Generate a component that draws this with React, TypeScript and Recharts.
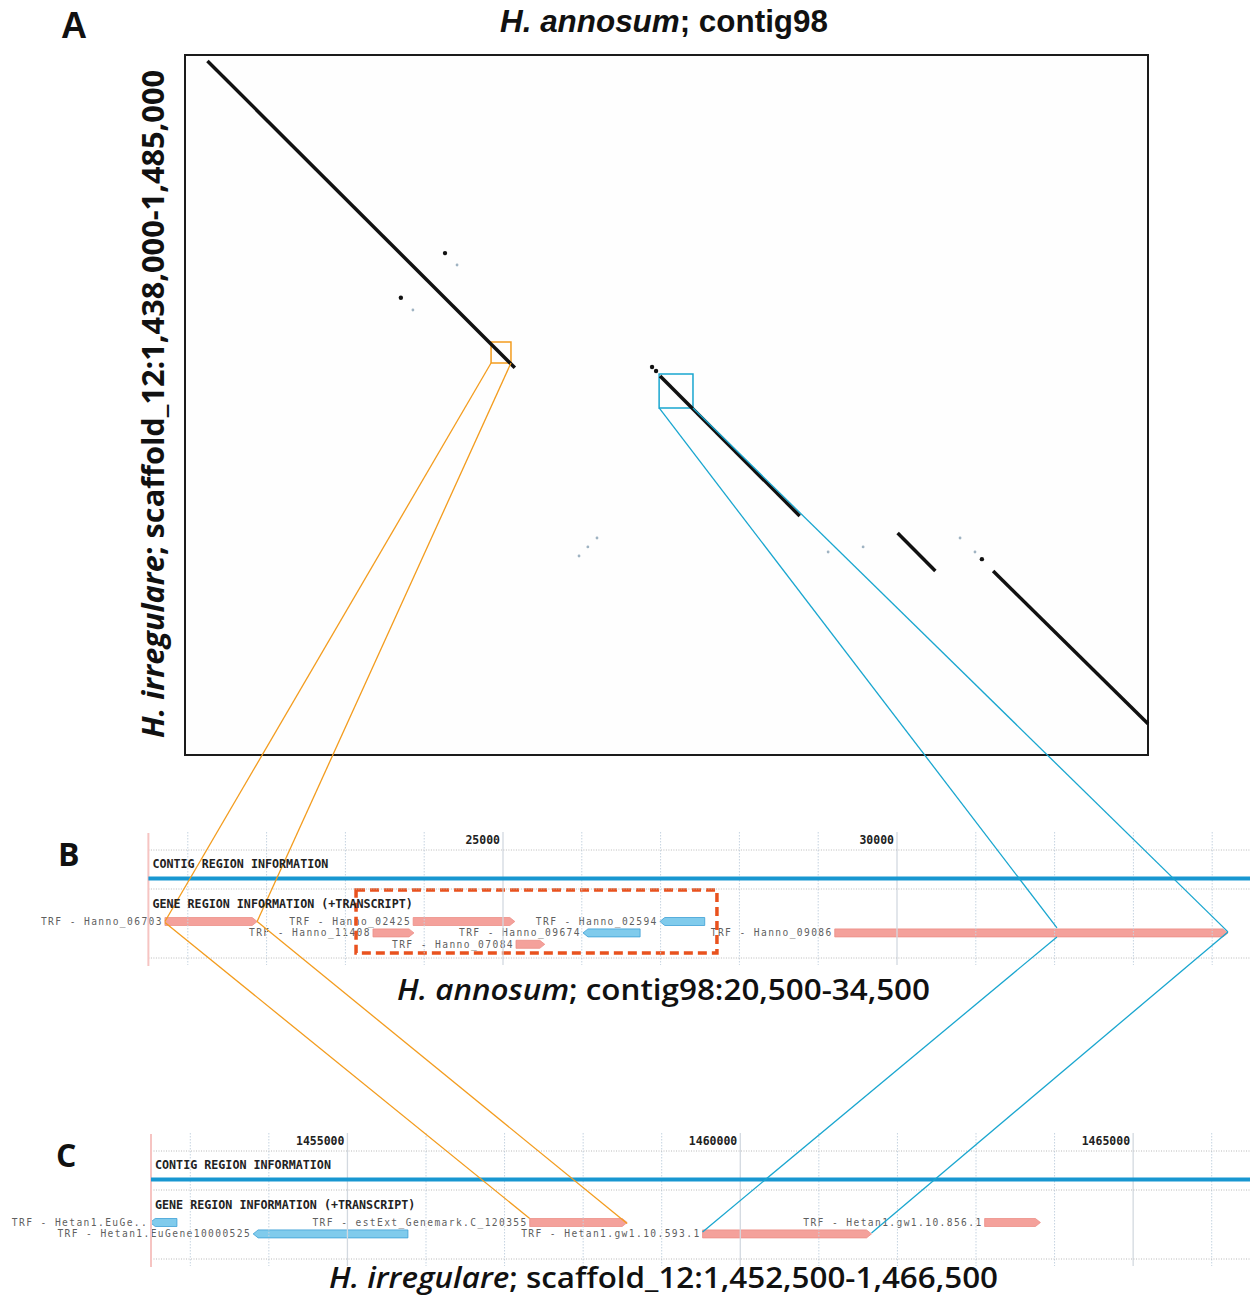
import React from "react";
import {
  ComposedChart,
  XAxis,
  YAxis,
  Line,
  Scatter,
  ReferenceArea,
  ReferenceLine,
  ReferenceDot,
} from "recharts";

const W = 1250;
const H = 1295;

// ---- panel A: dot plot, contig98 (x, bp) against scaffold_12 (y, bp)
const alignments = [
  { x1: 1400, y1: 1438400, x2: 20550, y2: 1459000 },
  { x1: 29600, y1: 1459550, x2: 38300, y2: 1468950 },
  { x1: 44400, y1: 1470100, x2: 46750, y2: 1472650 },
  { x1: 50350, y1: 1472650, x2: 60000, y2: 1482900 },
];
const strongDots = [
  { x: 16200, y: 1451300 },
  { x: 13450, y: 1454300 },
  { x: 49650, y: 1471850 },
  { x: 29100, y: 1458950 },
  { x: 29350, y: 1459220 },
];
const faintDots = [
  { x: 16950, y: 1452100 },
  { x: 14200, y: 1455120 },
  { x: 25670, y: 1470430 },
  { x: 24550, y: 1471640 },
  { x: 25100, y: 1471030 },
  { x: 42250, y: 1471030 },
  { x: 40070, y: 1471370 },
  { x: 48290, y: 1470430 },
  { x: 49220, y: 1471370 },
];
const zoomBoxes = [
  { color: "#f39c1e", x1: 19070, x2: 20310, y1: 1457270, y2: 1458680 },
  { color: "#19a6cf", x1: 29540, x2: 31650, y1: 1459420, y2: 1461700 },
];

// ---- panel B: contig98:20,500-34,500
const bRange = [20500, 34500];
const bMinorTicks = [21000, 22000, 23000, 24000, 26000, 27000, 28000, 29000, 31000, 32000, 33000, 34000];
const bMajorTicks = [25000, 30000];
const bGenes = [
  { name: "Hanno_06703", start: 20710, end: 21880, strand: 1, row: 1 },
  { name: "Hanno_02425", start: 23860, end: 25150, strand: 1, row: 1 },
  { name: "Hanno_11408", start: 23350, end: 23870, strand: 1, row: 2 },
  { name: "Hanno_07084", start: 25165, end: 25530, strand: 1, row: 3 },
  { name: "Hanno_09674", start: 26015, end: 26740, strand: -1, row: 2 },
  { name: "Hanno_02594", start: 26990, end: 27560, strand: -1, row: 1 },
  { name: "Hanno_09086", start: 29210, end: 34200, strand: 1, row: 2 },
];
const bHighlight = { x1: 23135, x2: 27715 };

// ---- panel C: scaffold_12:1,452,500-1,466,500
const cRange = [1452500, 1466500];
const cMinorTicks = [1453000, 1454000, 1456000, 1457000, 1458000, 1459000, 1461000, 1462000, 1463000, 1464000, 1466000];
const cMajorTicks = [1455000, 1460000, 1465000];
const cGenes = [
  { name: "Hetan1.EuGe..", start: 1452490, end: 1452830, strand: -1, row: 1 },
  { name: "Hetan1.EuGene10000525", start: 1453800, end: 1455770, strand: -1, row: 2 },
  { name: "estExt_Genemark.C_120355", start: 1457320, end: 1458560, strand: 1, row: 1 },
  { name: "Hetan1.gw1.10.593.1", start: 1459520, end: 1461670, strand: 1, row: 2 },
  { name: "Hetan1.gw1.10.856.1", start: 1463110, end: 1463820, strand: 1, row: 1 },
];

// connectors: A zoom box -> B gene -> C gene (dy: px offset from the row centre)
const connectors = [
  { color: "#f39c1e", a: { x: 19070, y: 1458680 }, b: { x: 20710, row: 1, dyIn: 0, dyOut: 1 }, c: { x: 1457320, row: 1, dy: -4 } },
  { color: "#f39c1e", a: { x: 20310, y: 1458680 }, b: { x: 21880, row: 1, dyIn: 0, dyOut: 0 }, c: { x: 1458560, row: 1, dy: 1 } },
  { color: "#19a6cf", a: { x: 29540, y: 1461700 }, b: { x: 32030, row: 2, dyIn: -5, dyOut: 4 }, c: { x: 1459520, row: 2, dy: -2 } },
  { color: "#19a6cf", a: { x: 31650, y: 1461700 }, b: { x: 34200, row: 2, dyIn: -1, dyOut: -1 }, c: { x: 1461670, row: 2, dy: -1 } },
];

// layout of a browser track, px below the track's top
const TRACK = { tick: 14, dot1: 20, contig: 38, blue: 48.5, dot2: 59, gene: 78, row1: 91.5, rowStep: 11.4, dot3: 128, gridTop: 2, gridBottom: 135 };

function frame(lo: number, hi: number, pxLo: number, pxHi: number, size: number) {
  const k = (hi - lo) / (pxHi - pxLo);
  return {
    domain: [lo - pxLo * k, hi + (size - pxHi) * k] as [number, number],
    px: (v: number) => pxLo + (v - lo) / k,
  };
}

const AX = frame(0, 60000, 185, 1148, W);
const AY = frame(1438000, 1485000, 55, 755, H);
const BX = frame(bRange[0], bRange[1], 148.4, 1251.6, W);
const CX = frame(cRange[0], cRange[1], 151, 1251, W);
const BY = frame(0, 100, 830, 930, H);
const CY = frame(0, 100, 1131, 1231, H);

const rowY = (row: number) => TRACK.row1 + (row - 1) * TRACK.rowStep;

const monoFont = "'DejaVu Sans Mono', 'Liberation Mono', monospace";
const sansFont = "'Open Sans', 'Noto Sans', sans-serif";
const narrowFont = "'Liberation Sans Narrow', 'Liberation Sans', Arial, sans-serif";

function geneShape(name: string, strand: number) {
  return (p: any) => {
    const { x, y, width, height } = p;
    const tip = Math.min(5, width / 2);
    const cy = y + height / 2;
    const pink = strand > 0;
    const pts = pink
      ? `${x},${y} ${x + width - tip},${y} ${x + width},${cy} ${x + width - tip},${y + height} ${x},${y + height}`
      : `${x + tip},${y} ${x + width},${y} ${x + width},${y + height} ${x + tip},${y + height} ${x},${cy}`;
    return (
      <g>
        <polygon
          points={pts}
          fill={pink ? "#f4a19b" : "#80cbec"}
          stroke={pink ? "#ec8f88" : "#3e9fd5"}
          strokeWidth={0.8}
        />
        <text x={x - 2} y={cy + 3.5} textAnchor="end" fontFamily={monoFont} fontSize={9.6}
          letterSpacing={1.4} fill="#5f5f5f">
          {`TRF - ${name}`}
        </text>
      </g>
    );
  };
}

function Track({ id, range, minor, major }: any) {
  const seg = (y: number) => [
    { x: range[0], y },
    { x: range[1], y },
  ];
  return [
    ...minor.map((t: number) => (
      <ReferenceLine key={`${id}mi${t}`} xAxisId={id} yAxisId={id} ifOverflow="visible"
        segment={[{ x: t, y: TRACK.gridTop }, { x: t, y: TRACK.gridBottom }]}
        stroke="#c5d3e0" strokeDasharray="1.5 1.5" strokeWidth={1} />
    )),
    ...major.map((t: number) => (
      <ReferenceLine key={`${id}ma${t}`} xAxisId={id} yAxisId={id} ifOverflow="visible"
        segment={[{ x: t, y: TRACK.gridTop }, { x: t, y: TRACK.gridBottom }]}
        stroke="#d3d9e0" strokeWidth={1.3} />
    )),
    ...[TRACK.dot1, TRACK.dot2, TRACK.dot3].map((y) => (
      <ReferenceLine key={`${id}h${y}`} xAxisId={id} yAxisId={id} segment={seg(y)} ifOverflow="visible"
        stroke="#b9b9b9" strokeDasharray="1 1.5" strokeWidth={1} />
    )),
    <ReferenceLine key={`${id}red`} xAxisId={id} yAxisId={id} ifOverflow="visible"
      segment={[{ x: range[0], y: TRACK.gridTop + 1 }, { x: range[0], y: TRACK.gridBottom + 1 }]}
      stroke="#f6c4c2" strokeWidth={2} />,
    <ReferenceLine key={`${id}blue`} xAxisId={id} yAxisId={id} segment={seg(TRACK.blue)} ifOverflow="visible"
      stroke="#1897d1" strokeWidth={4} />,
    ...major.map((t: number) => (
      <ReferenceDot key={`${id}tl${t}`} xAxisId={id} yAxisId={id} x={t} y={TRACK.tick} r={0} ifOverflow="visible"
        shape={(p: any) => (
          <text x={p.cx - 3} y={p.cy} textAnchor="end" fontFamily={monoFont} fontWeight="bold" fontSize={11.5} fill="#222">
            {t}
          </text>
        )} />
    )),
    <ReferenceDot key={`${id}hc`} xAxisId={id} yAxisId={id} x={range[0]} y={TRACK.contig} r={0} ifOverflow="visible"
      shape={(p: any) => (
        <text x={p.cx + 4} y={p.cy} fontFamily={monoFont} fontWeight="bold" fontSize={11.7} fill="#222">
          CONTIG REGION INFORMATION
        </text>
      )} />,
    <ReferenceDot key={`${id}hg`} xAxisId={id} yAxisId={id} x={range[0]} y={TRACK.gene} r={0} ifOverflow="visible"
      shape={(p: any) => (
        <text x={p.cx + 4} y={p.cy} fontFamily={monoFont} fontWeight="bold" fontSize={11.7} fill="#222">
          GENE REGION INFORMATION (+TRANSCRIPT)
        </text>
      )} />,
  ];
}

function connectorPoints(c: any) {
  return [
    { x: AX.px(c.a.x), y: AY.px(c.a.y) },
    { x: BX.px(c.b.x), y: BY.px(rowY(c.b.row) + c.b.dyIn) },
  ];
}
function connectorPointsLow(c: any) {
  return [
    { x: BX.px(c.b.x), y: BY.px(rowY(c.b.row) + c.b.dyOut) },
    { x: CX.px(c.c.x), y: CY.px(rowY(c.c.row) + c.c.dy) },
  ];
}

const hidden = { type: "number" as const, hide: true, allowDataOverflow: true };

export default function App() {
  return (
    <div style={{ position: "absolute", left: 0, top: 0, width: W, height: H, background: "#fff" }}>
      <ComposedChart width={W} height={H} margin={{ top: 0, right: 0, bottom: 0, left: 0 }}>
        <XAxis xAxisId="A" dataKey="x" domain={AX.domain} {...hidden} />
        <YAxis yAxisId="A" dataKey="y" domain={AY.domain} reversed {...hidden} />
        <XAxis xAxisId="B" dataKey="x" domain={BX.domain} {...hidden} />
        <YAxis yAxisId="B" dataKey="y" domain={BY.domain} reversed {...hidden} />
        <XAxis xAxisId="C" dataKey="x" domain={CX.domain} {...hidden} />
        <YAxis yAxisId="C" dataKey="y" domain={CY.domain} reversed {...hidden} />
        <XAxis xAxisId="page" dataKey="x" domain={[0, W]} {...hidden} />
        <YAxis yAxisId="page" dataKey="y" domain={[0, H]} reversed {...hidden} />

        {/* dot plot frame */}
        <ReferenceArea xAxisId="A" yAxisId="A" x1={0} x2={60000} y1={1438000} y2={1485000}
          fill="#fdfdfe" stroke="#1b1b1b" strokeWidth={2} />

        {Track({ id: "B", range: bRange, minor: bMinorTicks, major: bMajorTicks })}
        {Track({ id: "C", range: cRange, minor: cMinorTicks, major: cMajorTicks })}

        {alignments.map((s, i) => (
          <Line key={`al${i}`} xAxisId="A" yAxisId="A" dataKey="y"
            data={[{ x: s.x1, y: s.y1 }, { x: s.x2, y: s.y2 }]}
            stroke="#111" strokeWidth={3.5} dot={false} activeDot={false} isAnimationActive={false} />
        ))}
        <Scatter xAxisId="A" yAxisId="A" data={strongDots} isAnimationActive={false}
          shape={(p: any) => <circle cx={p.cx} cy={p.cy} r={2.2} fill="#111" />} />
        <Scatter xAxisId="A" yAxisId="A" data={faintDots} isAnimationActive={false}
          shape={(p: any) => <circle cx={p.cx} cy={p.cy} r={1.4} fill="#9fb3c2" />} />

        {zoomBoxes.map((b, i) => (
          <ReferenceArea key={`zb${i}`} xAxisId="A" yAxisId="A" x1={b.x1} x2={b.x2} y1={b.y1} y2={b.y2}
            fill="none" fillOpacity={0} stroke={b.color} strokeWidth={1.5} />
        ))}

        {connectors.map((c, i) => (
          <Line key={`cu${i}`} xAxisId="page" yAxisId="page" dataKey="y" data={connectorPoints(c)}
            stroke={c.color} strokeWidth={1.3} dot={false} activeDot={false} isAnimationActive={false} />
        ))}
        {connectors.map((c, i) => (
          <Line key={`cl${i}`} xAxisId="page" yAxisId="page" dataKey="y" data={connectorPointsLow(c)}
            stroke={c.color} strokeWidth={1.3} dot={false} activeDot={false} isAnimationActive={false} />
        ))}

        {bGenes.map((g) => (
          <ReferenceArea key={`bg${g.name}`} xAxisId="B" yAxisId="B"
            x1={g.start} x2={g.end} y1={rowY(g.row) - 4} y2={rowY(g.row) + 4}
            ifOverflow="visible" shape={geneShape(g.name, g.strand)} />
        ))}
        {cGenes.map((g) => (
          <ReferenceArea key={`cg${g.name}`} xAxisId="C" yAxisId="C"
            x1={g.start} x2={g.end} y1={rowY(g.row) - 4} y2={rowY(g.row) + 4}
            ifOverflow="visible" shape={geneShape(g.name, g.strand)} />
        ))}

        <ReferenceArea xAxisId="B" yAxisId="B" x1={bHighlight.x1} x2={bHighlight.x2} y1={60} y2={123}
          fill="none" fillOpacity={0} stroke="#e9521e" strokeWidth={3.5} strokeDasharray="9 5" />
      </ComposedChart>

      <svg width={W} height={H} style={{ position: "absolute", left: 0, top: 0, pointerEvents: "none" }}>
        <text x={61} y={38} fontFamily={narrowFont} fontWeight="bold" fontSize={36} fill="#111">A</text>
        <text x={500} y={32} fontFamily={narrowFont} fontWeight="bold" fontSize={31} fill="#111"
          textLength={328} lengthAdjust="spacingAndGlyphs">
          <tspan fontStyle="italic">H. annosum</tspan>; contig98
        </text>
        <text transform="translate(164,404) rotate(-90)" textAnchor="middle" fontFamily={sansFont}
          fontWeight={700} fontSize={30} fill="#111" textLength={668} lengthAdjust="spacingAndGlyphs">
          <tspan fontStyle="italic">H. irregulare</tspan>; scaffold_12:1,438,000-1,485,000
        </text>
        <text x={58} y={866} fontFamily={sansFont} fontWeight={700} fontSize={32} fill="#111">B</text>
        <text x={397} y={1000} fontFamily={sansFont} fontWeight={600} fontSize={29} fill="#111"
          textLength={533} lengthAdjust="spacingAndGlyphs">
          <tspan fontStyle="italic">H. annosum</tspan>; contig98:20,500-34,500
        </text>
        <text x={56} y={1167} fontFamily={sansFont} fontWeight={700} fontSize={32} fill="#111">C</text>
        <text x={329} y={1288} fontFamily={sansFont} fontWeight={600} fontSize={29} fill="#111"
          textLength={669} lengthAdjust="spacingAndGlyphs">
          <tspan fontStyle="italic">H. irregulare</tspan>; scaffold_12:1,452,500-1,466,500
        </text>
      </svg>
    </div>
  );
}
